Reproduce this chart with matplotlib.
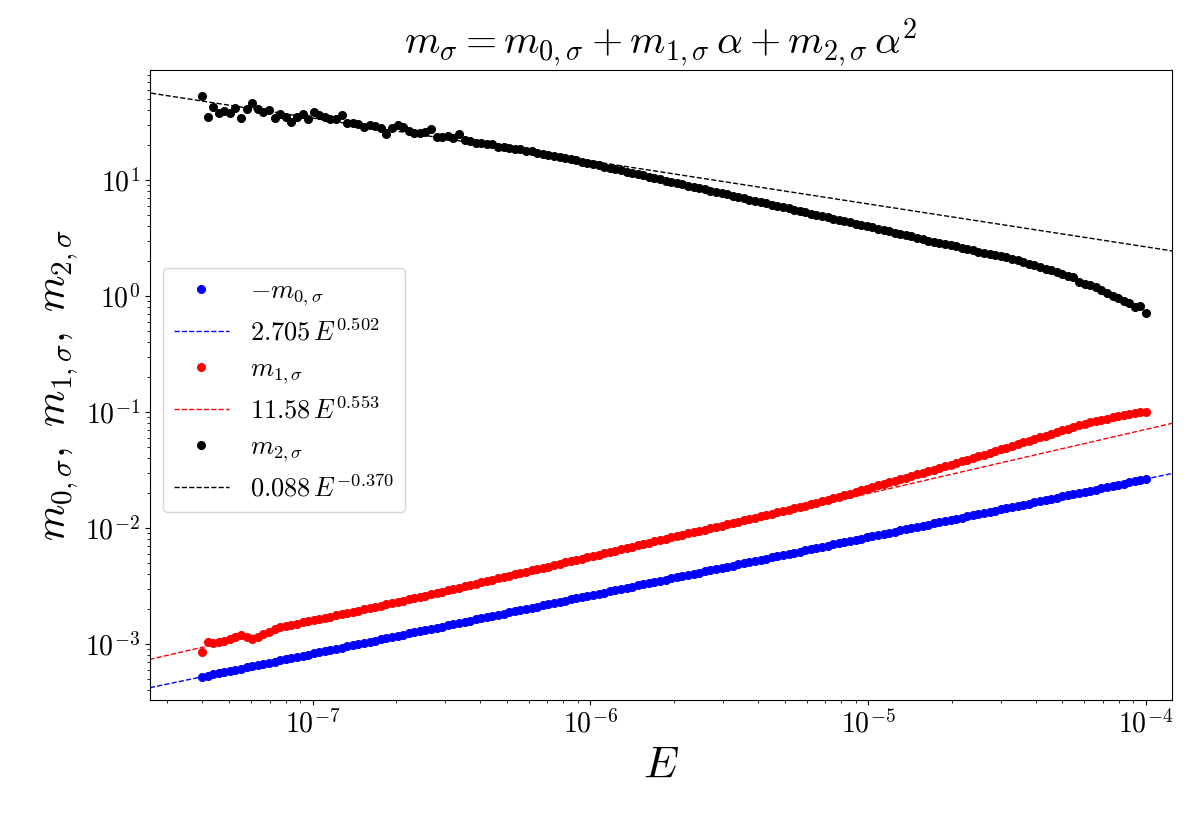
import numpy as np
import matplotlib
matplotlib.use('Agg')
import matplotlib.pyplot as plt
from matplotlib.ticker import LogLocator, FuncFormatter, NullFormatter

plt.rcParams['mathtext.fontset'] = 'cm'
plt.rcParams['font.family'] = 'DejaVu Serif'

# energy grid of the samples (170 log-spaced points between 4e-8 and 1e-4)
E = np.geomspace(4e-8, 1e-4, 170)

# log10 of -m0 (blue)
m0_neg_log = [
    -3.282, -3.272, -3.261, -3.251, -3.241, -3.231, -3.221, -3.211, -3.201, -3.191,
    -3.181, -3.171, -3.160, -3.150, -3.140, -3.130, -3.120, -3.110, -3.100, -3.090,
    -3.080, -3.070, -3.060, -3.049, -3.039, -3.029, -3.019, -3.009, -2.999, -2.989,
    -2.979, -2.969, -2.959, -2.948, -2.938, -2.928, -2.918, -2.908, -2.898, -2.888,
    -2.878, -2.868, -2.858, -2.848, -2.837, -2.827, -2.817, -2.807, -2.797, -2.787,
    -2.777, -2.767, -2.757, -2.747, -2.737, -2.726, -2.716, -2.706, -2.696, -2.686,
    -2.676, -2.666, -2.656, -2.646, -2.636, -2.625, -2.615, -2.605, -2.595, -2.585,
    -2.575, -2.565, -2.555, -2.545, -2.535, -2.525, -2.514, -2.504, -2.494, -2.484,
    -2.474, -2.464, -2.454, -2.444, -2.434, -2.424, -2.414, -2.403, -2.393, -2.383,
    -2.373, -2.363, -2.353, -2.343, -2.333, -2.323, -2.313, -2.302, -2.292, -2.282,
    -2.272, -2.262, -2.252, -2.242, -2.232, -2.222, -2.212, -2.202, -2.191, -2.181,
    -2.171, -2.161, -2.151, -2.141, -2.131, -2.121, -2.111, -2.101, -2.091, -2.080,
    -2.070, -2.060, -2.050, -2.040, -2.030, -2.020, -2.010, -2.000, -1.990, -1.979,
    -1.969, -1.959, -1.949, -1.939, -1.929, -1.919, -1.909, -1.899, -1.889, -1.879,
    -1.868, -1.858, -1.848, -1.838, -1.828, -1.818, -1.808, -1.798, -1.788, -1.778,
    -1.767, -1.757, -1.747, -1.737, -1.727, -1.717, -1.707, -1.697, -1.687, -1.677,
    -1.667, -1.656, -1.646, -1.636, -1.626, -1.616, -1.606, -1.596, -1.586, -1.576,
]

# log10 of m1 (red)
m1_log = [
    -3.065, -2.980, -2.994, -2.980, -2.972, -2.957, -2.937, -2.922, -2.942, -2.957,
    -2.937, -2.914, -2.894, -2.873, -2.851, -2.842, -2.833, -2.822, -2.813, -2.804,
    -2.795, -2.784, -2.774, -2.763, -2.753, -2.742, -2.731, -2.721, -2.710, -2.699,
    -2.689, -2.678, -2.668, -2.657, -2.646, -2.636, -2.625, -2.614, -2.604, -2.593,
    -2.583, -2.571, -2.560, -2.548, -2.537, -2.525, -2.514, -2.503, -2.491, -2.480,
    -2.468, -2.457, -2.445, -2.434, -2.422, -2.411, -2.399, -2.388, -2.377, -2.365,
    -2.354, -2.342, -2.331, -2.319, -2.308, -2.296, -2.285, -2.273, -2.262, -2.250,
    -2.239, -2.228, -2.216, -2.205, -2.193, -2.182, -2.170, -2.159, -2.147, -2.136,
    -2.125, -2.113, -2.102, -2.090, -2.079, -2.068, -2.057, -2.045, -2.034, -2.023,
    -2.012, -2.001, -1.989, -1.978, -1.967, -1.956, -1.944, -1.933, -1.922, -1.911,
    -1.899, -1.888, -1.876, -1.865, -1.853, -1.841, -1.829, -1.817, -1.805, -1.793,
    -1.781, -1.768, -1.755, -1.742, -1.729, -1.716, -1.702, -1.688, -1.674, -1.660,
    -1.646, -1.632, -1.618, -1.604, -1.591, -1.578, -1.564, -1.550, -1.537, -1.523,
    -1.510, -1.496, -1.481, -1.467, -1.453, -1.438, -1.424, -1.409, -1.395, -1.380,
    -1.366, -1.351, -1.335, -1.320, -1.305, -1.290, -1.275, -1.261, -1.246, -1.231,
    -1.217, -1.202, -1.188, -1.173, -1.158, -1.144, -1.130, -1.115, -1.101, -1.088,
    -1.076, -1.066, -1.055, -1.045, -1.036, -1.027, -1.019, -1.011, -1.003, -0.995,
]

# log10 of m2 (black)
m2_log = [
    1.724, 1.541, 1.632, 1.575, 1.597, 1.575, 1.618, 1.532, 1.609, 1.661,
    1.609, 1.584, 1.603, 1.532, 1.566, 1.546, 1.503, 1.541, 1.569, 1.523,
    1.589, 1.560, 1.541, 1.523, 1.523, 1.560, 1.494, 1.489, 1.483, 1.459,
    1.474, 1.466, 1.446, 1.397, 1.446, 1.474, 1.459, 1.425, 1.403, 1.408,
    1.416, 1.440, 1.373, 1.373, 1.379, 1.367, 1.400, 1.342, 1.340, 1.317,
    1.320, 1.307, 1.310, 1.287, 1.288, 1.278, 1.265, 1.264, 1.250, 1.247,
    1.235, 1.228, 1.220, 1.211, 1.203, 1.193, 1.182, 1.171, 1.160, 1.149,
    1.139, 1.128, 1.117, 1.106, 1.095, 1.084, 1.073, 1.062, 1.051, 1.040,
    1.029, 1.018, 1.007, 0.996, 0.985, 0.974, 0.963, 0.953, 0.942, 0.931,
    0.920, 0.909, 0.898, 0.887, 0.876, 0.865, 0.854, 0.843, 0.832, 0.821,
    0.810, 0.799, 0.788, 0.778, 0.767, 0.756, 0.745, 0.734, 0.723, 0.712,
    0.701, 0.690, 0.679, 0.668, 0.657, 0.646, 0.635, 0.624, 0.613, 0.602,
    0.592, 0.581, 0.570, 0.559, 0.548, 0.537, 0.526, 0.515, 0.503, 0.491,
    0.479, 0.468, 0.459, 0.450, 0.440, 0.428, 0.417, 0.405, 0.394, 0.384,
    0.373, 0.364, 0.355, 0.345, 0.333, 0.322, 0.310, 0.296, 0.281, 0.267,
    0.253, 0.238, 0.224, 0.207, 0.190, 0.172, 0.161, 0.125, 0.108, 0.092,
    0.075, 0.050, 0.025, 0.005, -0.018, -0.040, -0.062, -0.090, -0.088, -0.143,
]

# power-law fits  a * E^b  (from the legend)
fit0 = (2.705, 0.502)
fit1 = (11.58, 0.553)
fit2 = (0.088, -0.370)

m0 = 10 ** np.array(m0_neg_log)
m1 = 10 ** np.array(m1_log)
m2 = 10 ** np.array(m2_log)
Ef = np.geomspace(1e-8, 1e-3, 200)

fig = plt.figure(figsize=(12, 8.25), dpi=100)
ax = fig.add_axes([0.125, 0.1515, 0.8517, 0.7637])

ax.plot(E, m0, 'o', color='blue', ms=5.5, zorder=3, label=r'$-m_{0,\sigma}$')
ax.plot(Ef, fit0[0] * Ef ** fit0[1], '--', color='blue', lw=1,
        label=r'$2.705\,E^{0.502}$')
ax.plot(E, m1, 'o', color='red', ms=5.5, zorder=3, label=r'$m_{1,\sigma}$')
ax.plot(Ef, fit1[0] * Ef ** fit1[1], '--', color='red', lw=1,
        label=r'$11.58\,E^{0.553}$')
ax.plot(E, m2, 'o', color='black', ms=5.5, zorder=3, label=r'$m_{2,\sigma}$')
ax.plot(Ef, fit2[0] * Ef ** fit2[1], '--', color='black', lw=1,
        label=r'$0.088\,E^{-0.370}$')

ax.set_xscale('log')
ax.set_yscale('log')
ax.set_xlim(2.6e-8, 1.24e-4)
ax.set_ylim(3.3e-4, 89)

fmt = FuncFormatter(lambda v, p: r'$10^{%d}$' % int(round(np.log10(v))))
for a in (ax.xaxis, ax.yaxis):
    a.set_major_locator(LogLocator(base=10, numticks=20))
    a.set_minor_locator(LogLocator(base=10, subs=np.arange(2, 10), numticks=20))
    a.set_major_formatter(fmt)
    a.set_minor_formatter(NullFormatter())
ax.tick_params(labelsize=20)

ax.set_xlabel(r'$E$', fontsize=32)
ax.set_ylabel(r'$m_{0,\sigma},\ m_{1,\sigma},\ m_{2,\sigma}$', fontsize=30)
ax.set_title(r'$m_\sigma = m_{0,\sigma} + m_{1,\sigma}\,\alpha + m_{2,\sigma}\,\alpha^2$',
             fontsize=29)

ax.legend(loc='upper left', bbox_to_anchor=(0.0127, 0.686), borderaxespad=0,
          fontsize=19, handlelength=2.1, labelspacing=0.4)

fig.savefig('out.png', dpi=100)
